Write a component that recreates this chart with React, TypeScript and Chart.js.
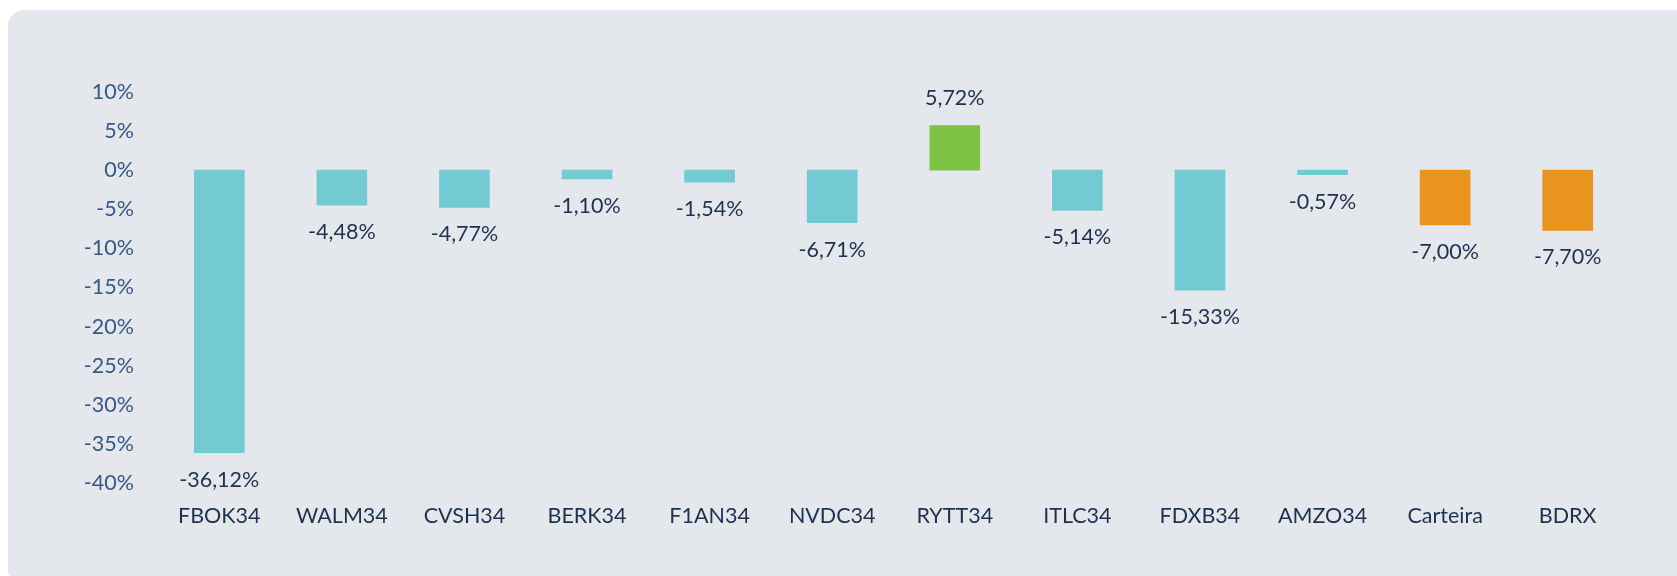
import React, { useEffect, useRef } from "react";
import { Chart, registerables } from "chart.js";

Chart.register(...registerables);

const categories = ["FBOK34", "WALM34", "CVSH34", "BERK34", "F1AN34", "NVDC34", "RYTT34", "ITLC34", "FDXB34", "AMZO34", "Carteira", "BDRX"];
const returns = [-36.12, -4.48, -4.77, -1.1, -1.54, -6.71, 5.72, -5.14, -15.33, -0.57, -7.0, -7.7];
const barKinds = ["asset", "asset", "asset", "asset", "asset", "asset", "asset", "asset", "asset", "asset", "bench", "bench"];

const TEAL = "#72cbd3";
const GREEN = "#7dc243";
const ORANGE = "#e8941d";
const FONT = "Lato, 'Noto Sans', sans-serif";

const fmt = (v: number) => v.toFixed(2).replace(".", ",") + "%";

const valueLabels = {
  id: "valueLabels",
  afterDatasetsDraw(chart: any) {
    const ctx = chart.ctx;
    const meta = chart.getDatasetMeta(0);
    ctx.save();
    ctx.font = `21.5px ${FONT}`;
    ctx.fillStyle = "#1d3150";
    ctx.textAlign = "center";
    ctx.textBaseline = "middle";
    meta.data.forEach((bar: any, i: number) => {
      const v = returns[i];
      const y = v >= 0 ? bar.y - 27 : bar.y + 27;
      ctx.fillText(fmt(v), bar.x, y);
    });
    ctx.restore();
  },
};

export default function App() {
  const ref = useRef<HTMLCanvasElement>(null);
  useEffect(() => {
    const colors = returns.map((v, i) => (barKinds[i] === "bench" ? ORANGE : v >= 0 ? GREEN : TEAL));
    const chart = new Chart(ref.current!, {
      type: "bar",
      data: {
        labels: categories,
        datasets: [{ data: returns, backgroundColor: colors, barThickness: 50 }],
      },
      options: {
        animation: false,
        responsive: true,
        maintainAspectRatio: false,
        layout: { padding: { top: 82, right: 48, bottom: 0, left: 0 } },
        plugins: { legend: { display: false }, tooltip: { enabled: false } },
        scales: {
          x: {
            grid: { display: false, drawTicks: false },
            border: { display: false },
            ticks: { color: "#1d3150", font: { family: FONT, size: 21.5 }, padding: 20, maxRotation: 0 },
            afterFit: (s: any) => { s.height = 93; },
          },
          y: {
            min: -40,
            max: 10,
            grid: { display: false, drawTicks: false },
            border: { display: false },
            ticks: { stepSize: 5, color: "#36598a", font: { family: FONT, size: 21.5 }, padding: 24, callback: (v: any) => v + "%" },
            afterFit: (s: any) => { s.width = 150; },
          },
        },
      },
      plugins: [valueLabels],
    });
    return () => chart.destroy();
  }, []);
  return (
    <div style={{ position: "fixed", left: 8, top: 10, right: 0, bottom: 0, background: "#e4e7ec", borderTopLeftRadius: 16, borderBottomLeftRadius: 4 }}>
      <canvas ref={ref} />
    </div>
  );
}
